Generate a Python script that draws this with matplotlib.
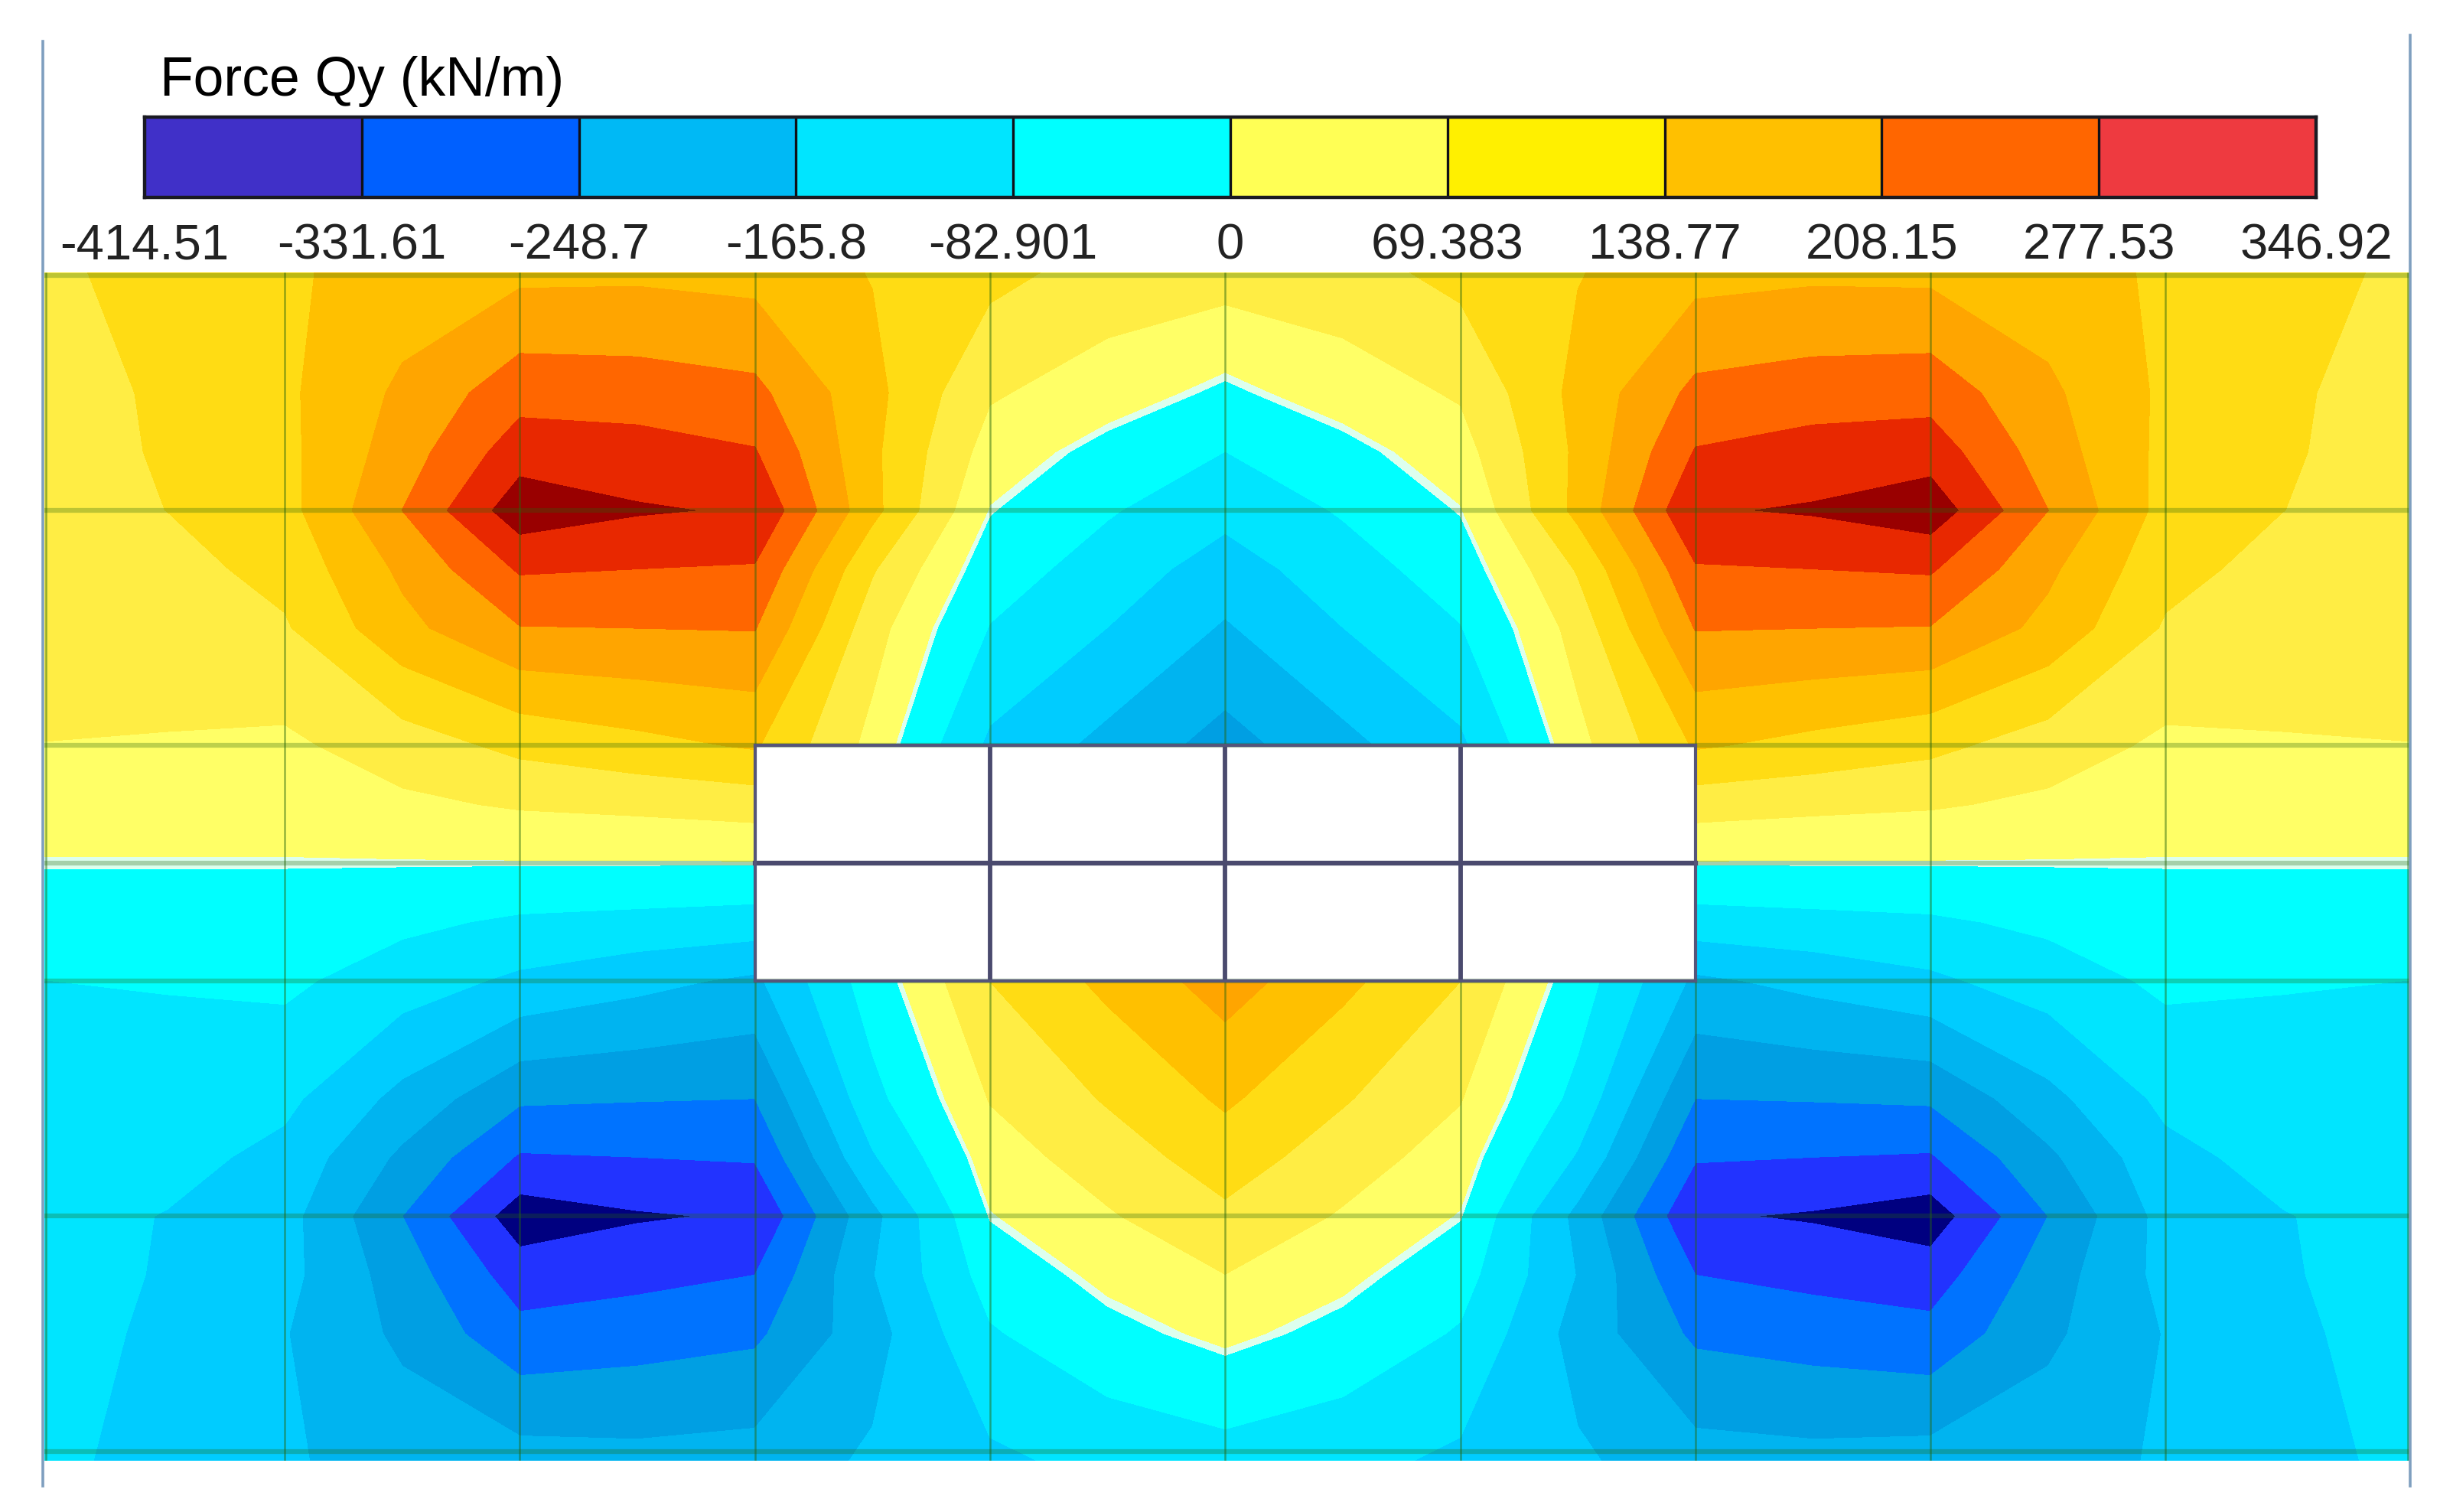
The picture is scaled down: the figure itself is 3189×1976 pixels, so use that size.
import numpy as np
import matplotlib
matplotlib.use("Agg")
import matplotlib.pyplot as plt
from matplotlib.colors import ListedColormap

plt.rcParams['font.family'] = ['Liberation Sans', 'DejaVu Sans']

# shell mesh nodes, in element widths
x_nodes = [-0.022, 0.5, 1, 1.5, 2, 2.5, 3, 3.5, 4, 4.5, 5, 5.5, 6, 6.5, 7, 7.5, 8, 8.5, 9, 9.5, 10.04]
y_nodes = [-0.012, 0.5, 0.75, 1, 1.25, 1.5, 2, 2.25, 2.5, 2.75, 3, 3.5, 3.75, 4, 4.25, 4.5, 5.04]

n = np.nan
qy_r0 = [74, 110, 124, 148, 163, 165, 158, 128, 100, 69, 63, 69, 100, 128, 158, 165, 163, 148, 124, 110, 74]
qy_r1 = [72, 92, 122, 182, 243, 239, 228, 143, 48, 22, -10, 22, 48, 143, 228, 239, 243, 182, 122, 92, 72]
qy_r1b = [69, 91, 119, 195, 284, 278, 263, 139, 26, -16, -52, -16, 26, 139, 263, 278, 284, 195, 119, 91, 69]
qy_r2 = [69, 87, 115, 217, 330, 308, 299, 143, 0, -47, -88, -47, 0, 143, 299, 308, 330, 217, 115, 87, 69]
qy_r2b = [61, 72, 100, 182, 265, 260, 256, 91, -27, -75, -128, -75, -27, 91, 256, 260, 265, 182, 100, 72, 61]
qy_r3 = [54, 61, 82, 161, 215, 217, 219, 61, -54, -104, -161, -104, -54, 61, 219, 217, 215, 161, 82, 61, 54]
qy_r4 = [43, 41, 35, 65, 98, 117, 135, 30, -114, -171, -228, -171, -114, 30, 135, 117, 98, 65, 35, 41, 43]
qy_r5 = [22, 22, 22, 35, 48, 54, 63, n, n, n, n, n, n, n, 63, 54, 48, 35, 22, 22, 22]
qy_r6 = [0, 0, 0, 0, 0, 0, 0, n, n, n, n, n, n, n, 0, 0, 0, 0, 0, 0, 0]
qy_r7 = [-26, -26, -28, -41, -60, -67, -75, n, n, n, n, n, n, n, -75, -67, -60, -41, -28, -26, -26]
qy_r8 = [-52, -49, -42, -78, -114, -140, -166, -26, 87, 141, 193, 141, 87, -26, -166, -140, -114, -78, -42, -49, -52]
qy_r9 = [-62, -73, -91, -171, -251, -256, -259, -67, 46, 91, 137, 91, 46, -67, -259, -256, -251, -171, -91, -73, -62]
qy_r9b = [-73, -85, -119, -218, -316, -311, -306, -109, 23, 65, 108, 65, 23, -109, -306, -311, -316, -218, -119, -85, -73]
qy_r10 = [-83, -106, -137, -259, -391, -368, -357, -171, 0, 39, 78, 39, 0, -171, -357, -368, -391, -259, -137, -106, -83]
qy_r10b = [-83, -108, -140, -233, -337, -326, -311, -158, -31, 13, 43, 13, -31, -158, -311, -326, -337, -233, -140, -108, -83]
qy_r11 = [-83, -114, -153, -218, -295, -282, -269, -176, -57, -16, 12, -16, -57, -176, -269, -282, -295, -218, -153, -114, -83]
qy_r12 = [-90, -124, -150, -176, -186, -192, -186, -148, -114, -88, -73, -88, -114, -148, -186, -192, -186, -176, -150, -124, -90]

band_levels = [-414.51, -362.7, -310.9, -259.1, -207.3, -155.5, -103.6, -51.8, -2.5, 2.5,
               43.4, 86.7, 130.1, 173.5, 216.8, 260.2, 303.6, 346.92]
band_colors = ['#000080', '#2233FF', '#0073FF', '#009FE3', '#00B4F0', '#00CCFF', '#00E5FF', '#00FFFF', '#DDFFEE',
               '#FFFF66', '#FFED44', '#FFDC14', '#FFC000', '#FFA500', '#FF6600', '#E82800', '#990000']

legend_ticks = ['-414.51', '-331.61', '-248.7', '-165.8', '-82.901', '0', '69.383', '138.77', '208.15', '277.53', '346.92']
legend_colors = ['#4030C8', '#0060FF', '#00B9F5', '#00E5FF', '#00FFFF', '#FFFF55', '#FFF000', '#FFC000', '#FF6600', '#EE3A40']

W, H = 3189, 1976
fig = plt.figure(figsize=(W / 100, H / 100), dpi=100, facecolor='white')


def px_axes(x0, y0, x1, y1):
    return fig.add_axes([x0 / W, 1 - y1 / H, (x1 - x0) / W, (y1 - y0) / H])


# contour field
ax = px_axes(58, 356, 3150, 1909)
qy = np.array([qy_r0, qy_r1, qy_r1b, qy_r2, qy_r2b, qy_r3, qy_r4, qy_r5, qy_r6, qy_r7, qy_r8,
               qy_r9, qy_r9b, qy_r10, qy_r10b, qy_r11, qy_r12])
ax.contourf(x_nodes, y_nodes, np.ma.masked_invalid(qy), levels=band_levels, colors=band_colors, corner_mask=False)
ax.set_xlim(-0.022, 10.04)
ax.set_ylim(5.04, -0.012)
ax.axis('off')

# element lines over the field
for gx in [-0.015, 1, 2, 3, 4, 5, 6, 7, 8, 9, 10.03]:
    ax.plot([gx, gx], [-0.012, 5.04], color=(0.15, 0.4, 0.05, 0.5), lw=1.8, solid_capstyle='butt')
for gy in [0, 1, 2, 2.5, 3, 4, 5]:
    ax.plot([-0.022, 10.04], [gy, gy], color=(0.15, 0.4, 0.05, 0.3), lw=4.5, solid_capstyle='butt')

# the opening in the middle
for gx in [4, 5, 6]:
    ax.plot([gx, gx], [2, 3], color='#4A4A6E', lw=4.2, solid_capstyle='butt', zorder=5)
ax.plot([3, 7], [2.5, 2.5], color='#4A4A6E', lw=4.5, zorder=5)
for gx in [3, 7]:
    ax.plot([gx, gx], [2, 3], color='#55557A', lw=3, zorder=6)
for gy in [2, 3]:
    ax.plot([3, 7], [gy, gy], color='#55557A', lw=3, zorder=6)

# rules either side
rule = fig.add_axes([0, 0, 1, 1], facecolor='none')
rule.set_xlim(0, W)
rule.set_ylim(H, 0)
rule.axis('off')
rule.plot([56, 56], [54, 1942], color='#7F9FBF', lw=2.6)
rule.plot([3150, 3150], [46, 1942], color='#7F9FBF', lw=2.6)

# legend bar
cax = px_axes(189, 153, 3027, 258)
cax.pcolormesh(range(len(legend_ticks)), [0, 1], np.arange(10).reshape(1, 10),
               cmap=ListedColormap(legend_colors), edgecolors='none')
for i in range(1, 10):
    cax.axvline(i, color='#101018', lw=2.4)
cax.set_yticks([])
cax.set_xticks(range(len(legend_ticks)))
cax.set_xticklabels(legend_ticks, fontsize=47, color='#222222')
cax.tick_params(axis='x', length=0, pad=24)
for s in cax.spines.values():
    s.set_linewidth(3.2)
    s.set_color('#1A1A22')

fig.text(209 / W, 1 - 125 / H, 'Force Qy (kN/m)', fontsize=51.5, color='black', ha='left', va='baseline')

fig.savefig('out.png', dpi=100, facecolor='white')
